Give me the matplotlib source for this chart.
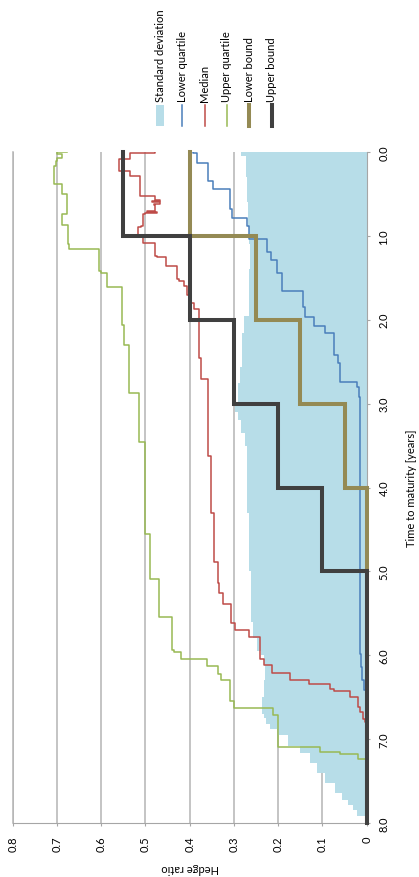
import numpy as np
import matplotlib.pyplot as plt
from matplotlib.lines import Line2D
from matplotlib.patches import Rectangle

plt.rcParams['font.family'] = ['Lato', 'DejaVu Sans']

# time grid for the bound step functions (years to maturity)
bound_edges = [0, 1, 2, 3, 4, 5, 8]
upper_bound = [0.55, 0.40, 0.30, 0.20, 0.10, 0.0]
lower_bound = [0.40, 0.25, 0.15, 0.05, 0.0, 0.0]

# quartile / median step curves: value holds from t[i] to t[i+1]
lq_t = [0.00, 0.016, 0.127, 0.346, 0.438, 0.684, 0.784, 0.883, 1.043, 1.194, 1.282,
        1.44, 1.652, 1.843, 1.962, 2.074, 2.161, 2.42, 2.52, 2.738, 2.798, 2.918,
        5.98, 6.14, 6.30, 6.42]
lq_v = [0.393, 0.384, 0.358, 0.348, 0.310, 0.305, 0.270, 0.267, 0.226, 0.217, 0.203,
        0.192, 0.143, 0.139, 0.120, 0.094, 0.075, 0.064, 0.060, 0.021, 0.017, 0.015,
        0.013, 0.011, 0.006, 0.0]

med_t = [0.00, 0.01, 0.088, 0.227, 0.29, 0.525, 0.57, 0.585, 0.60, 0.615, 0.63, 0.70,
         0.71, 0.725, 0.745, 0.88, 0.90, 1.00, 1.08, 1.24, 1.25, 1.36, 1.52, 1.54, 1.60,
         1.70, 1.80, 1.875, 2.46, 2.71, 3.63, 4.30, 4.89, 5.14, 5.26, 5.385, 5.62, 5.70,
         5.78, 6.05, 6.12, 6.21, 6.29, 6.34, 6.40, 6.43, 6.50, 6.62, 6.68, 6.76, 6.80]
med_v = [0.478, 0.535, 0.559, 0.535, 0.512, 0.478, 0.467, 0.485, 0.466, 0.480, 0.478, 0.497,
         0.475, 0.500, 0.505, 0.509, 0.516, 0.505, 0.478, 0.474, 0.454, 0.429, 0.425, 0.414,
         0.407, 0.398, 0.390, 0.380, 0.375, 0.358, 0.352, 0.346, 0.335, 0.333, 0.325, 0.306,
         0.297, 0.267, 0.242, 0.231, 0.215, 0.173, 0.130, 0.083, 0.073, 0.038, 0.019, 0.015,
         0.008, 0.004, 0.0]

uq_t = [0.00, 0.005, 0.028, 0.07, 0.107, 0.167, 0.386, 0.505, 0.744, 0.875, 1.10, 1.162,
        1.421, 1.44, 1.612, 2.06, 2.30, 2.869, 3.455, 4.55, 5.086, 5.544, 5.942, 5.962,
        6.042, 6.133, 6.221, 6.30, 6.551, 6.631, 6.71, 7.096, 7.156, 7.18, 7.236]
uq_v = [0.678, 0.700, 0.689, 0.699, 0.703, 0.707, 0.689, 0.678, 0.689, 0.676, 0.673, 0.605,
        0.600, 0.587, 0.553, 0.548, 0.538, 0.514, 0.502, 0.490, 0.469, 0.439, 0.435, 0.420,
        0.361, 0.336, 0.330, 0.309, 0.300, 0.212, 0.200, 0.105, 0.060, 0.019, 0.0]

sd_t = [0.00, 0.05, 0.30, 0.60, 0.90, 1.10, 1.40, 1.76, 1.96, 2.16, 2.56, 2.76, 3.00,
        3.10, 3.20, 3.35, 3.50, 4.30, 5.00, 5.60, 5.80, 5.95, 6.00, 6.10, 6.30, 6.50,
        6.70, 6.75, 6.82, 6.88, 6.95, 7.08, 7.16, 7.28, 7.40, 7.52, 7.64, 7.72, 7.79,
        7.85, 7.92, 8.00]
sd_v = [0.285, 0.272, 0.270, 0.268, 0.266, 0.263, 0.266, 0.267, 0.277, 0.282, 0.286, 0.290, 0.297,
        0.290, 0.283, 0.276, 0.271, 0.267, 0.262, 0.256, 0.249, 0.240, 0.233, 0.230, 0.233, 0.236,
        0.232, 0.227, 0.218, 0.200, 0.178, 0.150, 0.128, 0.112, 0.094, 0.072, 0.055, 0.042, 0.030,
        0.021, 0.004, 0.0]

x_ticks = [0.8, 0.7, 0.6, 0.5, 0.4, 0.3, 0.2, 0.1, 0]
x_ticklabels = ['0.8', '0.7', '0.6', '0.5', '0.4', '0.3', '0.2', '0.1', '0']
y_ticks = [0, 1, 2, 3, 4, 5, 6, 7, 8]
y_ticklabels = ['0.0', '1.0', '2.0', '3.0', '4.0', '5.0', '6.0', '7.0', '8.0']

labels = ['Standard deviation', 'Lower quartile', 'Median', 'Upper quartile',
          'Lower bound', 'Upper bound']
colors = ['#b7dde8', '#4a7ebb', '#be4b48', '#98b954', '#948a54', '#404040']
widths = [None, 1.1, 1.1, 1.1, 2.9, 2.9]


def to_steps(t, v, t_end=8.0):
    # value v[i] holds on [t[i], t[i+1]); returns (hedge, time) path
    edges = np.append(np.asarray(t, float), t_end)
    tt = np.repeat(edges, 2)[1:-1]
    vv = np.repeat(np.asarray(v, float), 2)
    return vv, tt


W, H = 419, 878
fig = plt.figure(figsize=(W / 100, H / 100), dpi=100)
ax = fig.add_axes([12.7 / W, 1 - 824 / H, 354 / W, 671 / H])

ax.fill_betweenx(sd_t, 0, sd_v, step='post', color=colors[0], lw=0, zorder=1)

series = [(lq_t, lq_v), (med_t, med_v), (uq_t, uq_v)]
for (t, v), c, lw in zip(series, colors[1:4], widths[1:4]):
    h, tt = to_steps(t, v)
    ax.plot(h, tt, color=c, lw=lw, zorder=3)

for v, c, lw in zip([lower_bound, upper_bound], colors[4:], widths[4:]):
    h, tt = to_steps(bound_edges[:-1], v, bound_edges[-1])
    ax.plot(h, tt, color=c, lw=lw, zorder=4, clip_on=False,
            solid_joinstyle='miter')

ax.set_xlim(0.8, 0)
ax.set_ylim(8, 0)

ax.set_xticks(x_ticks)
ax.set_xticklabels(x_ticklabels, rotation=90, fontsize=8)
ax.set_yticks(y_ticks)
ax.set_yticklabels(y_ticklabels, rotation=90, fontsize=8, va='center')
ax.yaxis.tick_right()
ax.tick_params(axis='x', direction='out', length=2.4, width=0.8, color='#a6a6a6', pad=6.5)
ax.tick_params(axis='y', direction='out', length=2.4, width=0.8, color='#a6a6a6', pad=6)

ax.grid(axis='x', color='#b4b4b4', lw=1.1, zorder=0)
ax.set_axisbelow(True)
ax.spines['top'].set_visible(False)
ax.spines['left'].set_color('#b4b4b4')
ax.spines['left'].set_linewidth(1.1)
ax.spines['bottom'].set_color('#a6a6a6')
ax.spines['right'].set_color('#a6a6a6')

ax.set_xlabel('Hedge ratio', rotation=180, fontsize=8, va='center', ha='center')
ax.xaxis.set_label_coords(0.5, -(869 - 824) / 671)
ax.yaxis.set_label_position('right')
ax.set_ylabel('Time to maturity [years]', rotation=90, fontsize=8, va='center', ha='center')
ax.yaxis.set_label_coords((411 - 12.7) / 354, 0.5)

# vertical legend across the top
for i, (lab, c, lw) in enumerate(zip(labels, colors, widths)):
    x = 160 + i * 22.3
    if lw is None:
        fig.patches.append(Rectangle(((x - 4.2) / W, 1 - 127 / H), 8.4 / W, 21 / H,
                                     transform=fig.transFigure, color=c, lw=0))
    else:
        fig.lines.append(Line2D([x / W, x / W], [1 - 106 / H, 1 - 127 / H],
                                transform=fig.transFigure, color=c, lw=lw))
    fig.text(x / W, 1 - 101.5 / H, lab, rotation=90, ha='center', va='bottom', fontsize=8)

fig.savefig('out.png', dpi=100)
